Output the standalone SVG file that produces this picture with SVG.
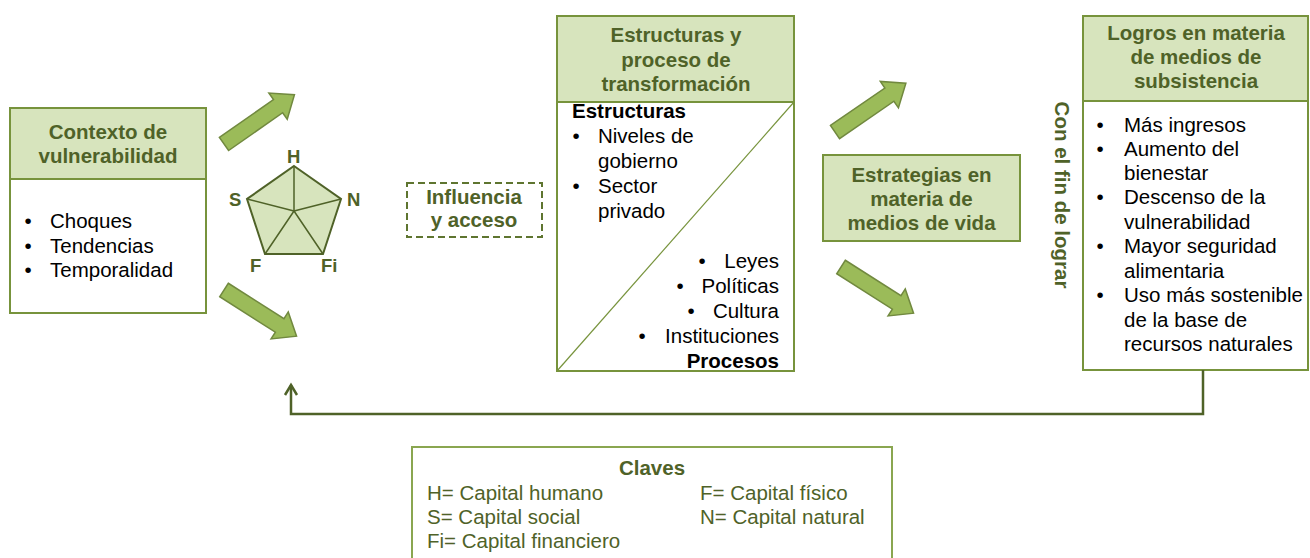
<svg xmlns="http://www.w3.org/2000/svg" width="1310" height="558" viewBox="0 0 1310 558">
<defs>
<style>
text{font-family:"Liberation Sans",Arial,sans-serif;font-size:20.5px;}
.hd{font-weight:bold;fill:#4F6228;text-anchor:middle;}
.bd{fill:#000;}
.bb{fill:#000;font-weight:bold;}
.bu{fill:#000;text-anchor:middle;}
.hdr{fill:#D7E4BD;stroke:#77933C;stroke-width:2;}
.body{fill:#fff;stroke:#77933C;stroke-width:2;}
.blk{fill:#9BBB59;stroke:#71893F;stroke-width:1.5;}
.lbl{font-weight:bold;fill:#4F6228;font-size:18.5px;}
.key{fill:#4F6228;}
</style>
<polygon id="barrow" points="0,-8 66,-8 66,-16 86,0 66,16 66,8 0,8"/>
<marker id="open" markerWidth="16" markerHeight="16" refX="13" refY="8" orient="auto" markerUnits="userSpaceOnUse" viewBox="0 0 16 16">
<path d="M3,2 L13,8 L3,14" fill="none" stroke="#4F6228" stroke-width="2.5"/>
</marker>
</defs>
<rect width="1310" height="558" fill="#fff"/>

<g id="contexto">
<rect class="body" x="10" y="179" width="196" height="134"/>
<rect class="hdr" x="10" y="108" width="196" height="71"/>
<text class="hd" x="108" y="139">Contexto de</text>
<text class="hd" x="108" y="163">vulnerabilidad</text>
<text class="bu" x="28" y="228">•</text><text class="bd" x="50" y="228">Choques</text>
<text class="bu" x="28" y="253">•</text><text class="bd" x="50" y="253">Tendencias</text>
<text class="bu" x="28" y="277">•</text><text class="bd" x="50" y="277">Temporalidad</text>
</g>

<g id="pentagono">
<polygon points="294,166 341,199 323,254 265,254 247,199" fill="#D7E4BD" stroke="#4F6228" stroke-width="2"/>
<path d="M294,211 L294,166 M294,211 L341,199 M294,211 L323,254 M294,211 L265,254 M294,211 L247,199" stroke="#4F6228" stroke-width="1.5" fill="none"/>
<text class="lbl" x="287" y="163">H</text>
<text class="lbl" x="229" y="206">S</text>
<text class="lbl" x="347" y="206">N</text>
<text class="lbl" x="250" y="272">F</text>
<text class="lbl" x="321" y="272">Fi</text>
</g>

<g id="influencia">
<rect x="407" y="183" width="135" height="54" fill="none" stroke="#5E7530" stroke-width="2" stroke-dasharray="7 4"/>
<text class="hd" x="474" y="204">Influencia</text>
<text class="hd" x="474" y="227">y acceso</text>
</g>

<g id="estructuras">
<rect class="body" x="557" y="102" width="237" height="269"/>
<rect class="hdr" x="557" y="16" width="237" height="86"/>
<line x1="557" y1="371" x2="794" y2="102" stroke="#77933C" stroke-width="1.2"/>
<text class="hd" x="676" y="42">Estructuras y</text>
<text class="hd" x="676" y="67">proceso de</text>
<text class="hd" x="676" y="91">transformación</text>
<text class="bb" x="572" y="118">Estructuras</text>
<text class="bu" x="576" y="143">•</text><text class="bd" x="598" y="143">Niveles de</text>
<text class="bd" x="598" y="168">gobierno</text>
<text class="bu" x="576" y="193">•</text><text class="bd" x="598" y="193">Sector</text>
<text class="bd" x="598" y="218">privado</text>
<text class="bu" x="702" y="268">•</text><text class="bd" x="779" y="268" text-anchor="end">Leyes</text>
<text class="bu" x="680" y="293">•</text><text class="bd" x="779" y="293" text-anchor="end">Políticas</text>
<text class="bu" x="691" y="318">•</text><text class="bd" x="779" y="318" text-anchor="end">Cultura</text>
<text class="bu" x="642" y="343">•</text><text class="bd" x="779" y="343" text-anchor="end">Instituciones</text>
<text class="bb" x="779" y="368" text-anchor="end">Procesos</text>
</g>

<g id="estrategias">
<rect class="hdr" x="823" y="155" width="197" height="86"/>
<text class="hd" x="921.5" y="182">Estrategias en</text>
<text class="hd" x="921.5" y="206">materia de</text>
<text class="hd" x="921.5" y="230">medios de vida</text>
</g>

<g id="con-el-fin">
<text class="hd" transform="translate(1055,195) rotate(90)" x="0" y="0">Con el fin de lograr</text>
</g>

<g id="logros">
<rect class="body" x="1083" y="101" width="225" height="269"/>
<rect class="hdr" x="1083" y="16" width="225" height="85"/>
<text class="hd" x="1196" y="40">Logros en materia</text>
<text class="hd" x="1196" y="64">de medios de</text>
<text class="hd" x="1196" y="88">subsistencia</text>
<text class="bu" x="1100" y="132">•</text><text class="bd" x="1124" y="132">Más ingresos</text>
<text class="bu" x="1100" y="156">•</text><text class="bd" x="1124" y="156">Aumento del</text>
<text class="bd" x="1124" y="180">bienestar</text>
<text class="bu" x="1100" y="204">•</text><text class="bd" x="1124" y="204">Descenso de la</text>
<text class="bd" x="1124" y="229">vulnerabilidad</text>
<text class="bu" x="1100" y="253">•</text><text class="bd" x="1124" y="253">Mayor seguridad</text>
<text class="bd" x="1124" y="278">alimentaria</text>
<text class="bu" x="1100" y="302">•</text><text class="bd" x="1124" y="302">Uso más sostenible</text>
<text class="bd" x="1124" y="327">de la base de</text>
<text class="bd" x="1124" y="351">recursos naturales</text>
</g>

<g id="claves">
<rect x="412" y="447" width="480" height="115" fill="#fff" stroke="#8AA650" stroke-width="2"/>
<text class="hd" x="652" y="475">Claves</text>
<text class="key" x="427" y="500">H= Capital humano</text>
<text class="key" x="427" y="524">S= Capital social</text>
<text class="key" x="427" y="548">Fi= Capital financiero</text>
<text class="key" x="700" y="500">F= Capital físico</text>
<text class="key" x="700" y="524">N= Capital natural</text>
</g>

<g id="conectores">
<use href="#barrow" class="blk" transform="translate(224,144) rotate(-35)"/>
<use href="#barrow" class="blk" transform="translate(224,290) rotate(32.5)"/>
<use href="#barrow" class="blk" transform="translate(835,132) rotate(-34.5)"/>
<use href="#barrow" class="blk" transform="translate(841,267) rotate(32.5)"/>
<path d="M1203,370 V414 H291 V385" fill="none" stroke="#4F6228" stroke-width="2.5" marker-end="url(#open)"/>
</g>
</svg>
